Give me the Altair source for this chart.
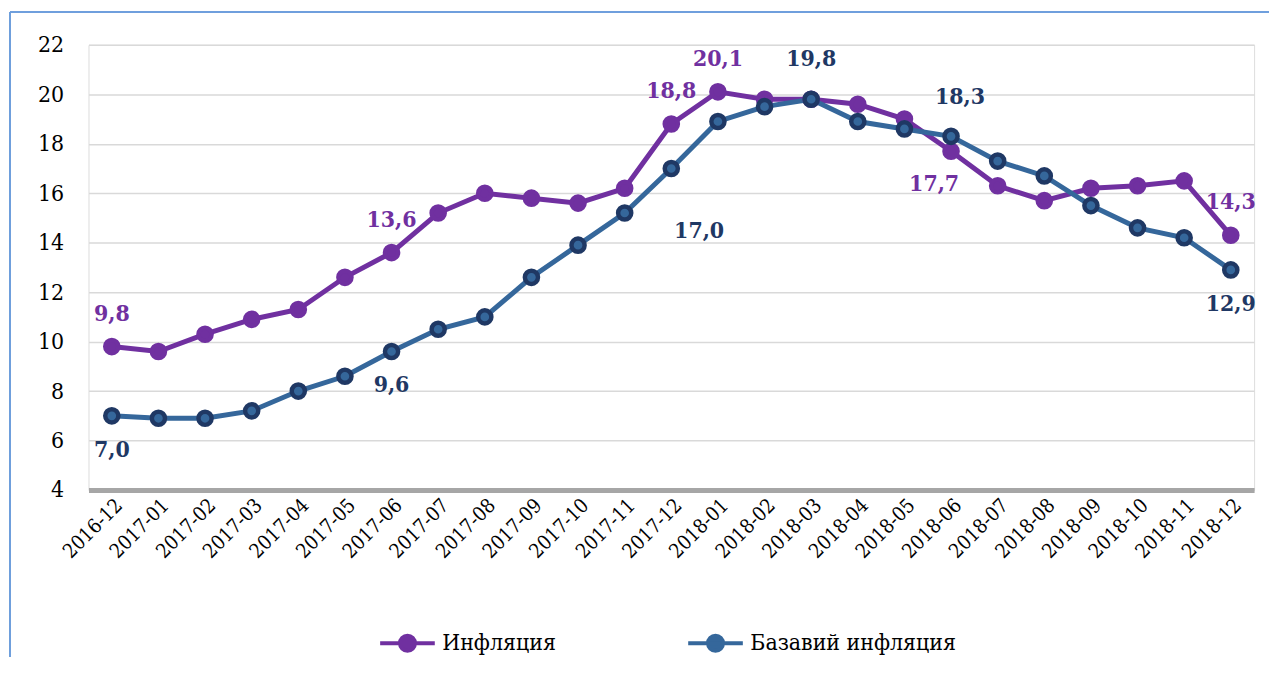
import altair as alt
import pandas as pd

months = ["2016-12", "2017-01", "2017-02", "2017-03", "2017-04", "2017-05", "2017-06",
          "2017-07", "2017-08", "2017-09", "2017-10", "2017-11", "2017-12", "2018-01",
          "2018-02", "2018-03", "2018-04", "2018-05", "2018-06", "2018-07", "2018-08",
          "2018-09", "2018-10", "2018-11", "2018-12"]
inflation = [9.8, 9.6, 10.3, 10.9, 11.3, 12.6, 13.6, 15.2, 16.0, 15.8, 15.6, 16.2, 18.8,
             20.1, 19.8, 19.8, 19.6, 19.0, 17.7, 16.3, 15.7, 16.2, 16.3, 16.5, 14.3]
base_inflation = [7.0, 6.9, 6.9, 7.2, 8.0, 8.6, 9.6, 10.5, 11.0, 12.6, 13.9, 15.2, 17.0,
                  18.9, 19.5, 19.8, 18.9, 18.6, 18.3, 17.3, 16.7, 15.5, 14.6, 14.2, 12.9]
series_names = ["Инфляция", "Базавий инфляция"]
y_ticks = [4, 6, 8, 10, 12, 14, 16, 18, 20, 22]

# which points carry a value label, and where the label sits
label_months = ["2016-12", "2017-06", "2017-12", "2018-01", "2018-06", "2018-12",
                "2016-12", "2017-06", "2017-12", "2018-03", "2018-06", "2018-12"]
label_series = [0, 0, 0, 0, 0, 0, 1, 1, 1, 1, 1, 1]
label_place = ["above", "above", "above", "above", "below_left", "above",
               "below", "below", "below_right", "above_high", "above_high_right", "below"]

PURPLE = "#7030a0"
BLUE = "#35679b"
NAVY = "#1f3864"
FONT = "DejaVu Serif Condensed, DejaVu Serif"

rows = []
for name, vals in zip(series_names, [inflation, base_inflation]):
    for m, v in zip(months, vals):
        rows.append({"month": m, "value": v, "series": name})
df = pd.DataFrame(rows)

lab_rows = []
for m, s, p in zip(label_months, label_series, label_place):
    vals = [inflation, base_inflation][s]
    v = vals[months.index(m)]
    lab_rows.append({"month": m, "value": v, "series": series_names[s], "place": p,
                     "text": f"{v:.1f}".replace(".", ",")})
ldf = pd.DataFrame(lab_rows)

x = alt.X("month:O", sort=months, scale=alt.Scale(type="point", padding=0.5),
          axis=alt.Axis(title=None, labelAngle=-45, labelFontSize=20, labelFont=FONT,
                        labelColor="#000000", ticks=False, domainColor="#a6a6a6",
                        domainWidth=5, grid=False, labelPadding=5))
y = alt.Y("value:Q", scale=alt.Scale(domain=[4, 22], nice=False, zero=False),
          axis=alt.Axis(title=None, values=y_ticks, labelFontSize=23, labelFont=FONT,
                        labelColor="#000000", ticks=False, domain=False, grid=True,
                        gridColor="#d9d9d9", gridWidth=1.5, labelPadding=25))

sym = "M-2,0L2,0M0.55,0A0.55,0.55,0,1,1,-0.55,0A0.55,0.55,0,1,1,0.55,0Z"

color = alt.Color("series:N", sort=series_names,
                  scale=alt.Scale(domain=series_names, range=[PURPLE, BLUE]),
                  legend=alt.Legend(title=None, orient="none", direction="horizontal",
                                    legendX=305, legendY=586, symbolType=sym,
                                    symbolSize=756, symbolStrokeWidth=4,
                                    labelFont=FONT, labelFontSize=23, labelColor="#000000",
                                    labelLimit=400, columnPadding=124, labelOffset=19))

lines = alt.Chart(df).mark_line(strokeWidth=5).encode(x=x, y=y, color=color)
points = alt.Chart(df).mark_point(filled=True, size=175, strokeWidth=4.5, opacity=1).encode(
    x=x, y=y, color=color,
    stroke=alt.Stroke("series:N", scale=alt.Scale(domain=series_names, range=[PURPLE, NAVY]),
                      legend=None))

offsets = {"above": (0, -33), "below": (0, 34), "below_right": (28, 63),
           "above_high": (0, -40), "above_high_right": (9, -40), "below_left": (-17, 33)}
label_layers = []
for place, (dx, dy) in offsets.items():
    label_layers.append(
        alt.Chart(ldf).transform_filter(alt.datum.place == place)
        .mark_text(font=FONT, fontSize=23, fontWeight="bold", dx=dx, dy=dy,
                   align="center", baseline="middle")
        .encode(x=x, y=y, text="text:N",
                fill=alt.Fill("series:N", scale=alt.Scale(domain=series_names,
                                                           range=[PURPLE, NAVY]),
                              legend=None))
    )

frame_color = "#6f9fdc"
frame_left = alt.Chart(df).mark_rule(color=frame_color, strokeWidth=1.5).encode(
    x=alt.value(-79), y=alt.value(-33), y2=alt.value(616))
frame_top = alt.Chart(df).mark_rule(color=frame_color, strokeWidth=1.5).encode(
    x=alt.value(-79), x2=alt.value(1188), y=alt.value(-33))

chart = alt.layer(frame_left, frame_top, lines, points, *label_layers).properties(
    width=1173, height=448,
    padding={"left": 1, "top": 1, "right": 0, "bottom": 0},
).configure_view(stroke=None).configure(background="#ffffff")

chart.save("out.html", embed_options={"renderer": "svg", "actions": False})
